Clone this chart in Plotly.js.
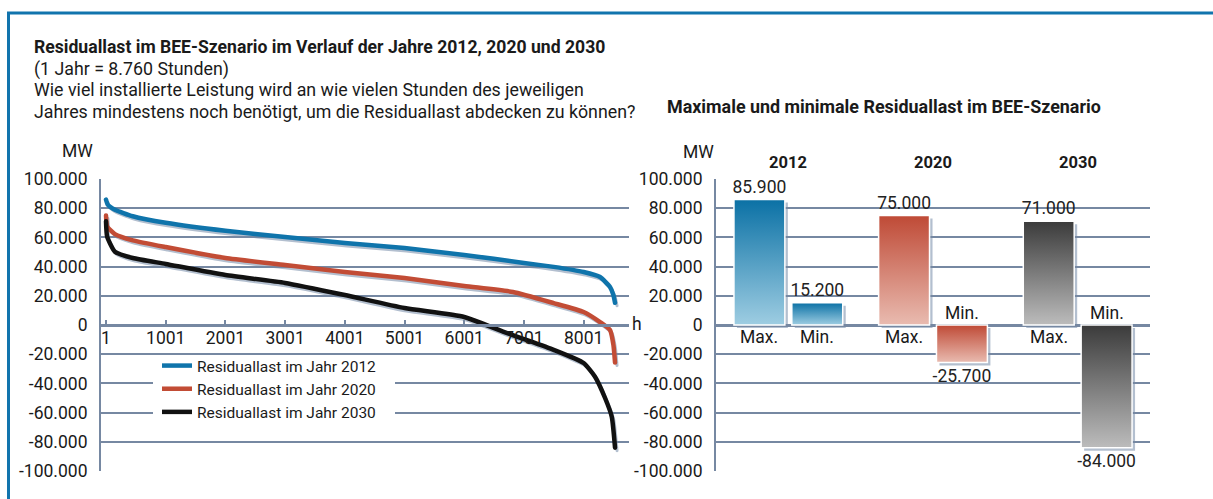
<!DOCTYPE html>
<html><head><meta charset="utf-8">
<script src="https://cdn.plot.ly/plotly-3.0.1.min.js"></script>
<style>html,body{margin:0;padding:0;background:#fff;} #chart{width:1213px;height:499px;}</style>
</head><body><div id="chart"></div>
<script>
// ---------- data ----------
const hours2012 = [1, 30, 150, 450, 1001, 2001, 3001, 4001, 5001, 6001, 7001, 7500, 8001, 8276, 8443, 8500, 8527];
const load2012  = [85900, 82500, 79000, 74500, 70000, 64500, 60300, 56200, 52700, 48000, 42500, 39800, 36300, 32900, 26000, 20500, 15200];
const hours2020 = [1, 20, 150, 450, 1001, 2001, 3001, 4001, 5001, 6001, 6818, 7500, 8001, 8276, 8443, 8500, 8527];
const load2020  = [75000, 67500, 62300, 58000, 53400, 45900, 41100, 36300, 32200, 26700, 22600, 15000, 8900, 2000, -3400, -13700, -25700];
const hours2030 = [1, 20, 150, 450, 1001, 2001, 3001, 4001, 5001, 6001, 6651, 7001, 7500, 8001, 8192, 8360, 8472, 8527];
const load2030  = [71000, 60500, 50200, 45900, 41800, 34200, 28800, 20500, 11600, 5500, -4500, -9600, -17000, -26000, -35400, -50000, -62800, -84000];
const seriesNames = ['Residuallast im Jahr 2012', 'Residuallast im Jahr 2020', 'Residuallast im Jahr 2030'];

const years = ['2012', '2020', '2030'];
const maxValues = [85900, 75000, 71000];
const minValues = [15200, -25700, -84000];
const barLabels = ['Max.', 'Min.'];

const xTickVals = [1, 1001, 2001, 3001, 4001, 5001, 6001, 7001, 8001];
const xTickLabels = ['1', '1001', '2001', '3001', '4001', '5001', '6001', '7001', '8001'];
const yTickVals = [-100000, -80000, -60000, -40000, -20000, 0, 20000, 40000, 60000, 80000, 100000];
const yTickLabels = ['-100.000', '-80.000', '-60.000', '-40.000', '-20.000', '0', '20.000', '40.000', '60.000', '80.000', '100.000'];

// ---------- styling ----------
const W = 1213, H = 499;
const FONT = 'Roboto, "DejaVu Sans", sans-serif';
const FS = 17.5;
const GRID = '#7688a2';
const SHADOW = '#b3bfcf';
const lineColors = ['#0f74ab', '#c24c35', '#111111'];
const grad = [
  ['#0b71a5', '#9ecde2'],
  ['#bf4a36', '#e9bbb0'],
  ['#3b3b3b', '#bcbcbc']
];
const px = v => v / W;
const py = v => 1 - v / H;
const fmt = v => (v < 0 ? '-' : '') + String(Math.abs(v)).replace(/\B(?=(\d{3})+(?!\d))/g, '.');

const yDom = [py(471), py(179)];
const leftDom = [px(101), px(629)];
const rightDom = [px(716), px(1150)];
const xRange = [-83, 8761];
const yRange = [-100000, 100000];
const dyShadow = 3 * (yRange[1] - yRange[0]) / (471 - 179);
const dxShadowL = 2 * (xRange[1] - xRange[0]) / (629 - 101);
const dxShadowR = 3 * 3 / (1150 - 716);

const hoursAll = [hours2012, hours2020, hours2030];
const loadsAll = [load2012, load2020, load2030];

const traces = [];
hoursAll.forEach((h, i) => traces.push({
  x: h, y: loadsAll[i], xaxis: 'x', yaxis: 'y', type: 'scatter', mode: 'lines',
  line: {color: SHADOW, width: 3, shape: 'spline', smoothing: 0.5}, showlegend: false, hoverinfo: 'skip'
}));
hoursAll.forEach((h, i) => traces.push({
  x: h, y: loadsAll[i], xaxis: 'x2', yaxis: 'y2', type: 'scatter', mode: 'lines', name: seriesNames[i],
  line: {color: lineColors[i], width: 4.5, shape: 'spline', smoothing: 0.5}, showlegend: true
}));
const idx = years.map((_, i) => i);
const bw = 0.352, off = 0.2;
[maxValues, minValues].forEach((vals, k) => traces.push({
  x: idx, y: vals, xaxis: 'x3', yaxis: 'y3', type: 'bar', width: bw, offset: (k === 0 ? -off : off) - bw / 2,
  marker: {color: SHADOW}, showlegend: false, hoverinfo: 'skip'
}));
[maxValues, minValues].forEach((vals, k) => traces.push({
  x: idx, y: vals, xaxis: 'x4', yaxis: 'y4', type: 'bar', width: bw, offset: (k === 0 ? -off : off) - bw / 2,
  marker: {color: idx.map(i => grad[i][0]), line: {color: '#ffffff', width: 1.5}},
  text: vals.map(fmt), textposition: 'outside', cliponaxis: false, constraintext: 'none',
  textfont: {family: FONT, size: FS, color: '#222'}, showlegend: false
}));

const annotations = [];
const addText = (text, x, y, size, opts = {}) => annotations.push(Object.assign({
  text, xref: 'paper', yref: 'paper', x: px(x), y: py(y), xanchor: 'left', yanchor: 'middle',
  showarrow: false, font: {family: FONT, size, color: '#1a1a1a'}
}, opts));
addText('<b>Residuallast im BEE-Szenario im Verlauf der Jahre 2012, 2020 und 2030</b>', 32, 47, 17.6);
addText('(1 Jahr = 8.760 Stunden)', 32, 69, 17.8);
addText('Wie viel installierte Leistung wird an wie vielen Stunden des jeweiligen', 32, 90, 17.8);
addText('Jahres mindestens noch benötigt, um die Residuallast abdecken zu können?', 32, 111, 17.8);
addText('<b>Maximale und minimale Residuallast im BEE-Szenario</b>', 665, 106, 17.9);
addText('MW', 77, 151, FS, {xanchor: 'center'});
addText('MW', 698, 152, FS, {xanchor: 'center'});
addText('h', 637, 324, FS, {xanchor: 'center'});
years.forEach((yr, i) => annotations.push({
  text: '<b>' + yr + '</b>', xref: 'x4', yref: 'paper', x: i, y: py(162), xanchor: 'center', yanchor: 'middle',
  showarrow: false, font: {family: FONT, size: 16.5, color: '#1a1a1a'}
}));
[maxValues, minValues].forEach((vals, k) => vals.forEach((v, i) => annotations.push({
  text: barLabels[k], xref: 'x4', yref: 'y4', x: i + (k === 0 ? -off : off), y: 0,
  yshift: v >= 0 ? -12 : 12, xanchor: 'center', yanchor: 'middle', showarrow: false,
  font: {family: FONT, size: FS, color: '#1a1a1a'}
})));

const tf = {family: FONT, size: FS, color: '#1a1a1a'};
const layout = {
  width: W, height: H, margin: {l: 0, r: 0, t: 0, b: 0},
  paper_bgcolor: '#ffffff', plot_bgcolor: 'rgba(0,0,0,0)',
  font: {family: FONT, size: FS, color: '#1a1a1a'},
  barmode: 'overlay', hovermode: false,
  xaxis: {domain: leftDom, range: [xRange[0] - dxShadowL, xRange[1] - dxShadowL], visible: false, anchor: 'y'},
  yaxis: {domain: yDom, range: [yRange[0] + dyShadow, yRange[1] + dyShadow], visible: false, anchor: 'x'},
  xaxis2: {domain: leftDom, range: xRange, anchor: 'free', position: py(325), showgrid: false, zeroline: false,
    showline: true, linecolor: GRID, linewidth: 3, tickvals: xTickVals, ticktext: xTickLabels,
    ticks: 'inside', ticklen: 4, tickwidth: 2, tickcolor: GRID, tickfont: tf, ticklabelstandoff: -4},
  yaxis2: {domain: yDom, range: yRange, anchor: 'x2', showline: true, linecolor: GRID, linewidth: 2,
    showgrid: true, gridcolor: GRID, gridwidth: 2, zeroline: false, tickvals: yTickVals, ticktext: yTickLabels,
    ticks: '', ticklabelstandoff: 8, tickfont: tf},
  xaxis3: {domain: rightDom, range: [-0.5 - dxShadowR, 2.5 - dxShadowR], visible: false, anchor: 'y3'},
  yaxis3: {domain: yDom, range: [yRange[0] + dyShadow, yRange[1] + dyShadow], visible: false, anchor: 'x3'},
  xaxis4: {domain: rightDom, range: [-0.5, 2.5], anchor: 'y4', showticklabels: false, showline: false, showgrid: false, zeroline: false},
  yaxis4: {domain: yDom, range: yRange, anchor: 'x4', showline: true, linecolor: GRID, linewidth: 2,
    showgrid: true, gridcolor: GRID, gridwidth: 2, zeroline: true, zerolinecolor: GRID, zerolinewidth: 3,
    tickvals: yTickVals, ticktext: yTickLabels, ticks: '', ticklabelstandoff: 8, tickfont: tf},
  showlegend: true,
  legend: {x: px(157), y: py(349), xanchor: 'left', yanchor: 'top', bgcolor: 'rgba(0,0,0,0)',
    font: {family: FONT, size: 15.5, color: '#1a1a1a'}, itemwidth: 30, tracegroupgap: 0},
  annotations,
  shapes: [
    {type: 'rect', xref: 'paper', yref: 'paper', x0: px(153), x1: px(395), y0: py(422), y1: py(358),
      fillcolor: '#ffffff', line: {width: 0}, layer: 'above'},
    {type: 'line', xref: 'paper', yref: 'paper', x0: px(7), x1: 1, y0: py(13), y1: py(13), line: {color: '#1174ad', width: 3}},
    {type: 'line', xref: 'paper', yref: 'paper', x0: px(8.5), x1: px(8.5), y0: py(12), y1: 0, line: {color: '#1174ad', width: 3}}
  ]
};

Plotly.newPlot('chart', traces, layout, {staticPlot: true}).then(gd => {
  const svg = gd.querySelector('.main-svg');
  const defs = svg.querySelector('defs');
  const NS = 'http://www.w3.org/2000/svg';
  grad.forEach((g, i) => {
    const lg = document.createElementNS(NS, 'linearGradient');
    lg.setAttribute('id', 'bargrad' + i);
    lg.setAttribute('x1', '0'); lg.setAttribute('y1', '0'); lg.setAttribute('x2', '0'); lg.setAttribute('y2', '1');
    [[0, g[0]], [1, g[1]]].forEach(([o, c]) => {
      const s = document.createElementNS(NS, 'stop');
      s.setAttribute('offset', o); s.setAttribute('stop-color', c);
      lg.appendChild(s);
    });
    defs.appendChild(lg);
  });
  gd.querySelectorAll('.subplot.x4y4 .barlayer .trace').forEach(tr => {
    tr.querySelectorAll('.point path').forEach((p, i) => { p.style.fill = 'url(#bargrad' + i + ')'; });
  });
  gd.querySelectorAll('.scatterlayer .js-line').forEach(p => { p.style.strokeLinecap = 'round'; });
});
</script></body></html>
